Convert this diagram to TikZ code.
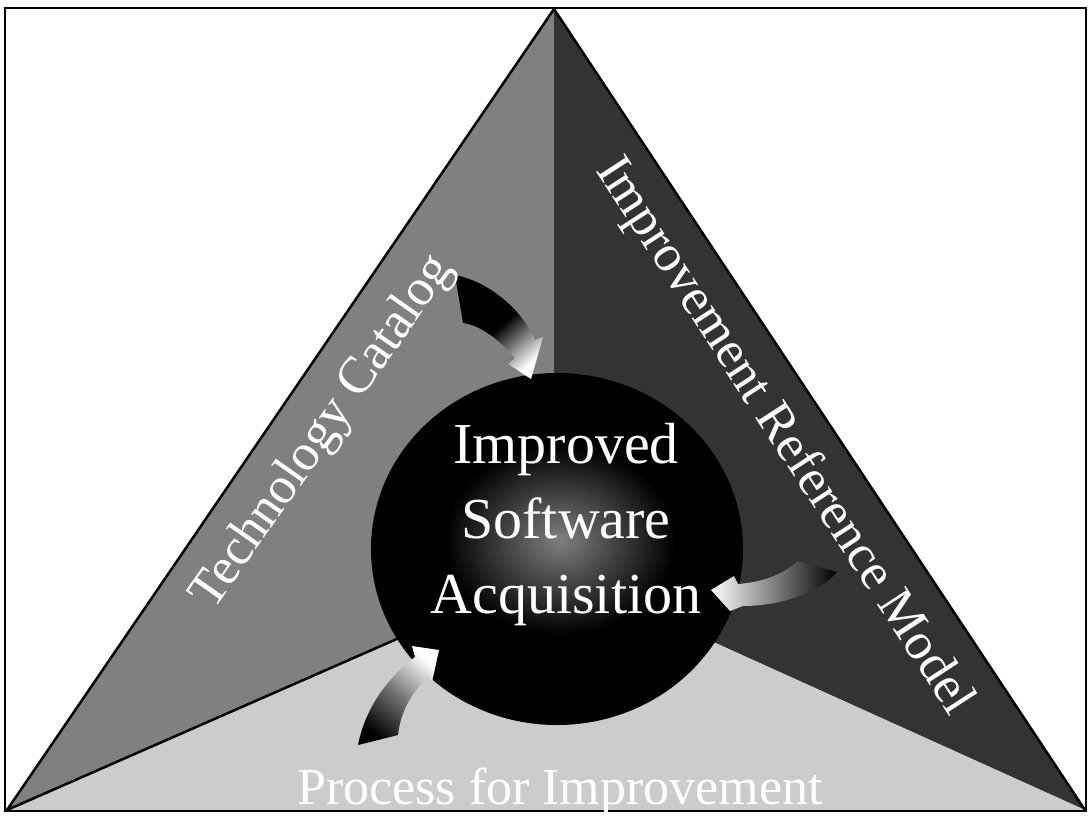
\documentclass[tikz,border=0pt]{standalone}
\usepackage{fontspec}
\setmainfont{Liberation Serif}
\usetikzlibrary{shapes.geometric}
\begin{document}
\begin{tikzpicture}[x=1pt,y=-1pt,
  lbl/.style={text=white, font=\fontsize{52}{60}\selectfont, inner sep=0pt},
  hubtxt/.style={text=white, font=\fontsize{58}{70}\selectfont, inner sep=0pt, anchor=base},
  edgeline/.style={line width=2.5pt, line join=miter},
  hubshape/.style={ellipse, fill=black, minimum width=372pt, minimum height=352pt, inner sep=0pt}]
\useasboundingbox (0,0) rectangle (1089,820);
\fill[white] (0,0) rectangle (1089,820);
\coordinate (A) at (554,9);
\coordinate (BL) at (7,810);
\coordinate (BR) at (1085,810);
\coordinate (M) at (554,570);
% regions
\fill[black!50] (A) -- (M) -- (BL) -- cycle;
\fill[black!80] (A) -- (BR) -- (M) -- cycle;
\fill[black!20] (BL) -- (M) -- (BR) -- cycle;
\draw[edgeline] (BL) -- (M);
\draw[edgeline] (BL) -- (A) -- (BR);
\draw[line width=2pt] (5,8) rectangle (1086,811);
% hub
\node[hubshape] (hub) at (557,549) {};
\shade[inner color=black!50, outer color=black] (560,540) ellipse [x radius=115pt, y radius=95pt];
% arrows
\shade[top color=black, bottom color=white, middle color=black, shading angle=42]
  (455,275) .. controls (490,282) and (522,310) .. (535,340) -- (543,337) -- (531,379)
  -- (508,364) -- (515,358) .. controls (500,340) and (480,325) .. (463,323) -- cycle;
\shade[left color=white, middle color=black!60, right color=black]
  (711,590) -- (734,576) -- (738,584) .. controls (765,582) and (785,573) .. (798,561)
  -- (837,572) .. controls (818,594) and (778,606) .. (743,606) -- (730,611) -- cycle;
\shade[top color=white, bottom color=black, middle color=black!55, shading angle=-40]
  (439,650) -- (412,646) -- (415,657) .. controls (385,680) and (365,710) .. (358,745)
  -- (398,735) .. controls (400,715) and (410,693) .. (428,677) -- (432,682) -- cycle;
% labels
\node[lbl, rotate=55, anchor=base west] (tech) at (213,612) {Technology Catalog};
\node[lbl, rotate=-57, anchor=base west] (irm) at (595,170) {Improvement Reference Model};
\node[lbl, anchor=base] (pfi) at (560,804) {Process for Improvement};
\node[hubtxt] (t1) at (566,463) {Improved};
\node[hubtxt] (t2) at (566,538) {Software};
\node[hubtxt] (t3) at (566,613) {Acquisition};
\end{tikzpicture}
\end{document}
